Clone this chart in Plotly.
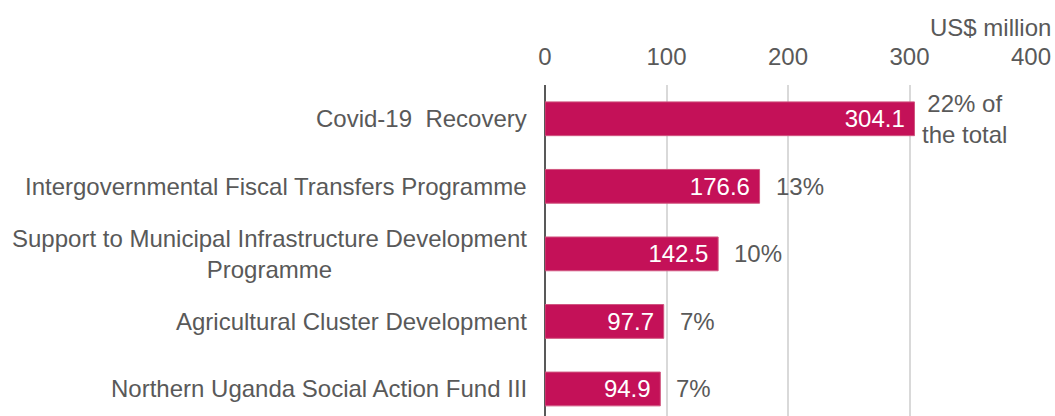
import plotly.graph_objects as go

categories = [
    "Covid-19  Recovery",
    "Intergovernmental Fiscal Transfers Programme",
    "Support to Municipal Infrastructure Development<br>Programme",
    "Agricultural Cluster Development",
    "Northern Uganda Social Action Fund III",
]
values = [304.1, 176.6, 142.5, 97.7, 94.9]
value_labels = ["304.1", "176.6", "142.5", "97.7", "94.9"]
share_labels = ["22% of<br>the total", "13%", "10%", "7%", "7%"]
x_ticks = [0, 100, 200, 300, 400]

BAR = "#C41158"
GREY = "#595959"
FONT = "Liberation Sans, Arial, sans-serif"
FS = 24

fig = go.Figure()
fig.add_trace(go.Bar(
    y=list(range(len(categories))),
    x=values,
    orientation="h",
    marker=dict(color=BAR, line=dict(color="#D0557F", width=1)),
    width=0.5,
    text=value_labels,
    texttemplate="%{text}\u00a0",
    textposition="inside",
    insidetextanchor="end",
    textfont=dict(color="white", size=FS, family=FONT),
    hoverinfo="skip",
))

annotations = []
for i, (v, s) in enumerate(zip(values, share_labels)):
    annotations.append(dict(
        x=v, y=i, xref="x", yref="y", text=s, showarrow=False,
        xanchor="left", yanchor="middle", align="center",
        xshift=6 if i == 0 else 14,
        font=dict(color=GREY, size=FS, family=FONT),
    ))
for i, c in enumerate(categories):
    annotations.append(dict(
        x=0, y=i, xref="paper", yref="y", text=c, showarrow=False,
        xanchor="right", yanchor="middle", align="center",
        xshift=-16, font=dict(color=GREY, size=FS, family=FONT),
    ))
annotations.append(dict(
    x=1, y=1, xref="paper", yref="paper", text="US$ million", showarrow=False,
    xanchor="right", yanchor="middle", xshift=22, yshift=58,
    font=dict(color=GREY, size=FS, family=FONT),
))

fig.update_layout(
    width=1055, height=416,
    margin=dict(l=545, r=24, t=85, b=0),
    paper_bgcolor="white", plot_bgcolor="white",
    showlegend=False,
    annotations=annotations,
    font=dict(family=FONT, color=GREY, size=FS),
    xaxis=dict(
        side="top", range=[0, 400], tickvals=x_ticks,
        ticktext=[str(t) for t in x_ticks],
        showgrid=True, gridcolor="#D9D9D9", gridwidth=1.5,
        zeroline=True, zerolinecolor="#595959", zerolinewidth=1.5,
        showline=False, ticks="", ticklen=0, ticklabelstandoff=14,
        tickfont=dict(color=GREY, size=FS, family=FONT),
    ),
    yaxis=dict(
        range=[4.4, -0.5], showticklabels=False, showgrid=False,
        zeroline=False, showline=False,
    ),
)

fig.write_html(
    "out.html",
    config={"displayModeBar": False},
    post_script="document.body.style.margin='0';document.body.style.overflow='hidden';",
)
